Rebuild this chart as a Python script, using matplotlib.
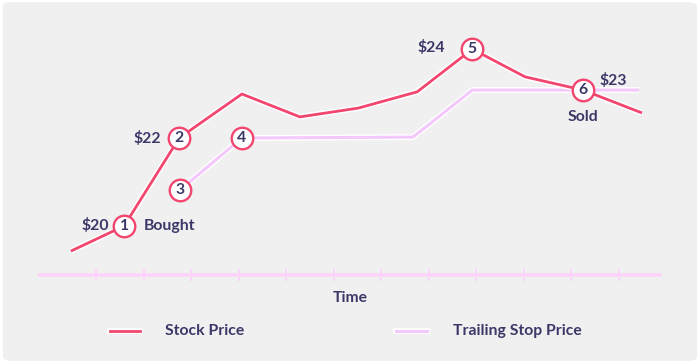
import matplotlib
matplotlib.use("Agg")
import matplotlib.pyplot as plt
import matplotlib.patheffects as pe
from matplotlib.patches import FancyBboxPatch

# ---- data ----
stock_time = [0.47, 1.59, 2.75, 4.07, 5.29, 6.52, 7.76, 8.92, 10.03, 11.25, 12.49]
stock_price = [19.43, 20.0, 22.0, 23.0, 22.48, 22.68, 23.05, 24.02, 23.39, 23.09, 22.57]
stop_time = [2.77, 4.07, 7.67, 8.92, 12.43]
stop_price = [20.82, 22.0, 22.02, 23.09, 23.09]
tick_times = list(range(1, 13))

# markers: (label, series, index)
markers = [("1", "s", 1), ("2", "s", 2), ("3", "t", 0), ("4", "t", 1), ("5", "s", 7), ("6", "s", 9)]

STOCK = "#f2466f"
STOP = "#f3c8fb"
AXIS = "#fdd3fa"
TEXT = "#3b3868"
BG = "#f0f0f0"

plt.rcParams['font.family'] = ['Lato', 'DejaVu Sans']
FW = "bold"
FS = 11.3

fig = plt.figure(figsize=(7.0, 3.63), dpi=100)
fig.patch.set_facecolor("white")
bg = FancyBboxPatch((0.004, 0.006), 0.992, 0.988, boxstyle="round,pad=0,rounding_size=0.012",
                    transform=fig.transFigure, facecolor=BG, edgecolor="none", zorder=-10)
fig.patches.append(bg)

W, H = 700, 363
ax = fig.add_axes([40 / W, (H - 275) / H, 620 / W, (275 - 30) / H])
ax.set_facecolor("none")
ax.set_xlim(-0.18, 12.87)
ax.set_ylim(18.886, 24.455)

outline = [pe.Stroke(linewidth=4.2, foreground="white"), pe.Normal()]
ax.plot(stop_time, stop_price, color=STOP, lw=2.2, solid_capstyle="butt",
        path_effects=outline, zorder=3)
ax.plot(stock_time, stock_price, color=STOCK, lw=2.0, solid_capstyle="butt",
        path_effects=outline, zorder=4)

for lab, ser, i in markers:
    if ser == "s":
        x, y = stock_time[i], stock_price[i]
    else:
        x, y = stop_time[i], stop_price[i]
    ax.plot([x], [y], marker="o", ms=15.5, mfc="white", mec=STOCK, mew=1.7, zorder=6)
    ax.text(x, y, lab, ha="center", va="center", fontsize=FS, color=TEXT,
            fontweight=FW, zorder=7)

tkw = dict(color=TEXT, fontsize=FS, fontweight=FW, va="center")
ax.annotate("$20", (stock_time[1], stock_price[1]), xytext=(-10.5, 0), textcoords="offset points", ha="right", **tkw)
ax.annotate("Bought", (stock_time[1], stock_price[1]), xytext=(14.5, 0), textcoords="offset points", ha="left", **tkw)
ax.annotate("$22", (stock_time[2], stock_price[2]), xytext=(-13, 0), textcoords="offset points", ha="right", **tkw)
ax.annotate("$24", (stock_time[7], stock_price[7]), xytext=(-20, 1), textcoords="offset points", ha="right", **tkw)
ax.annotate("$23", (stop_time[4], stop_price[4]), xytext=(-8.6, 7), textcoords="offset points", ha="right", **tkw)
ax.annotate("Sold", (stock_time[9], stock_price[9]), xytext=(0, -19.5), textcoords="offset points", ha="center", **tkw)

# axis
for s in ["top", "right", "left"]:
    ax.spines[s].set_visible(False)
ax.spines["bottom"].set_color(AXIS)
ax.spines["bottom"].set_linewidth(2.6)
ax.set_yticks([])
ax.set_xticks(tick_times)
ax.set_xticklabels([])
ax.tick_params(axis="x", direction="inout", length=8, width=1.3, color=AXIS)
ax.set_xlabel("Time", color=TEXT, fontsize=FS, fontweight=FW, labelpad=4)

# legend
leg_ax = fig.add_axes([0, 0, 1, 1], facecolor="none")
leg_ax.set_xlim(0, 1)
leg_ax.set_ylim(0, 1)
leg_ax.axis("off")
ly = (H - 331) / H
leg_ax.plot([110 / W, 140 / W], [ly, ly], color=STOCK, lw=2.0, path_effects=outline)
leg_ax.text(165 / W, ly, "Stock Price", **tkw)
leg_ax.plot([396 / W, 427 / W], [ly, ly], color=STOP, lw=2.2, path_effects=outline)
leg_ax.text(453 / W, ly, "Trailing Stop Price", **tkw)

fig.savefig("out.png", dpi=100, facecolor=fig.get_facecolor())
